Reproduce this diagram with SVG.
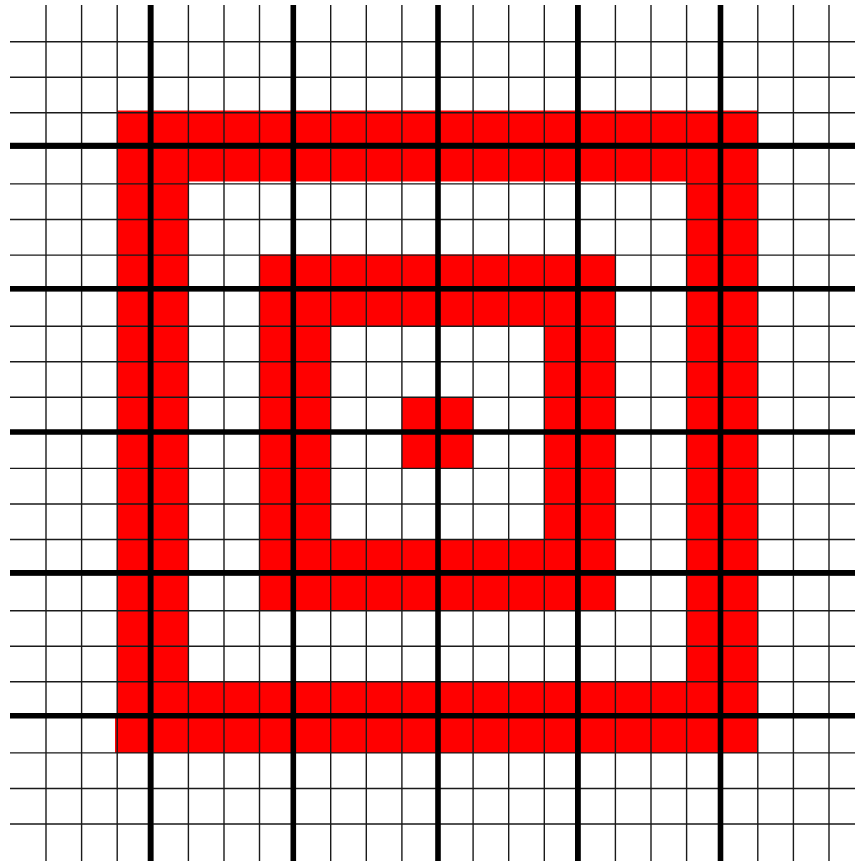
<svg xmlns="http://www.w3.org/2000/svg" width="855" height="861" viewBox="0 0 855 861">
<style>
.red{fill:#ff0000;fill-rule:evenodd}
.thin{stroke:#1a1a1a;stroke-width:1.4;fill:none}
.thick{stroke:#000;stroke-width:5.6;fill:none}
</style>
<rect width="855" height="861" fill="#fff"/>
<g id="red-cells">
<path class="red" d="M117.2,110.5 H757.8 V752.9 H117.2 Z M188.4,181.5 V681.8 H686.6 V181.5 Z"/>
<rect class="red" x="115" y="715" width="3" height="37.9"/>
<path class="red" d="M259.5,254.5 H615.4 V610.7 H259.5 Z M330.7,326.2 V539.5 H544.3 V326.2 Z"/>
<rect class="red" x="401.9" y="397.3" width="71.2" height="71.1"/>
</g>
<g id="thin-grid" class="thin">
<path d="M46,5V861M81.6,5V861M117.2,5V861M152.8,5V861M188.4,5V861M224,5V861M259.5,5V861M295.1,5V861M330.7,5V861M366.3,5V861M401.9,5V861M437.5,5V861M473.1,5V861M508.7,5V861M544.3,5V861M579.9,5V861M615.4,5V861M651,5V861M686.6,5V861M722.2,5V861M757.8,5V861M793.4,5V861M829,5V861"/>
<path d="M10,41.7H855M10,77.3H855M10,112.8H855M10,148.4H855M10,183.9H855M10,219.5H855M10,255.1H855M10,290.6H855M10,326.2H855M10,361.7H855M10,397.3H855M10,432.9H855M10,468.4H855M10,504H855M10,539.5H855M10,575.1H855M10,610.7H855M10,646.2H855M10,681.8H855M10,717.3H855M10,752.9H855M10,788.5H855M10,824H855"/>
</g>
<g id="thick-grid" class="thick">
<path d="M150.5,5V861M293.3,5V861M438,5V861M577.8,5V861M720.5,5V861"/>
<path d="M10,145.5H855M10,288.8H855M10,432H855M10,572.8H855M10,715.8H855"/>
</g>
</svg>
